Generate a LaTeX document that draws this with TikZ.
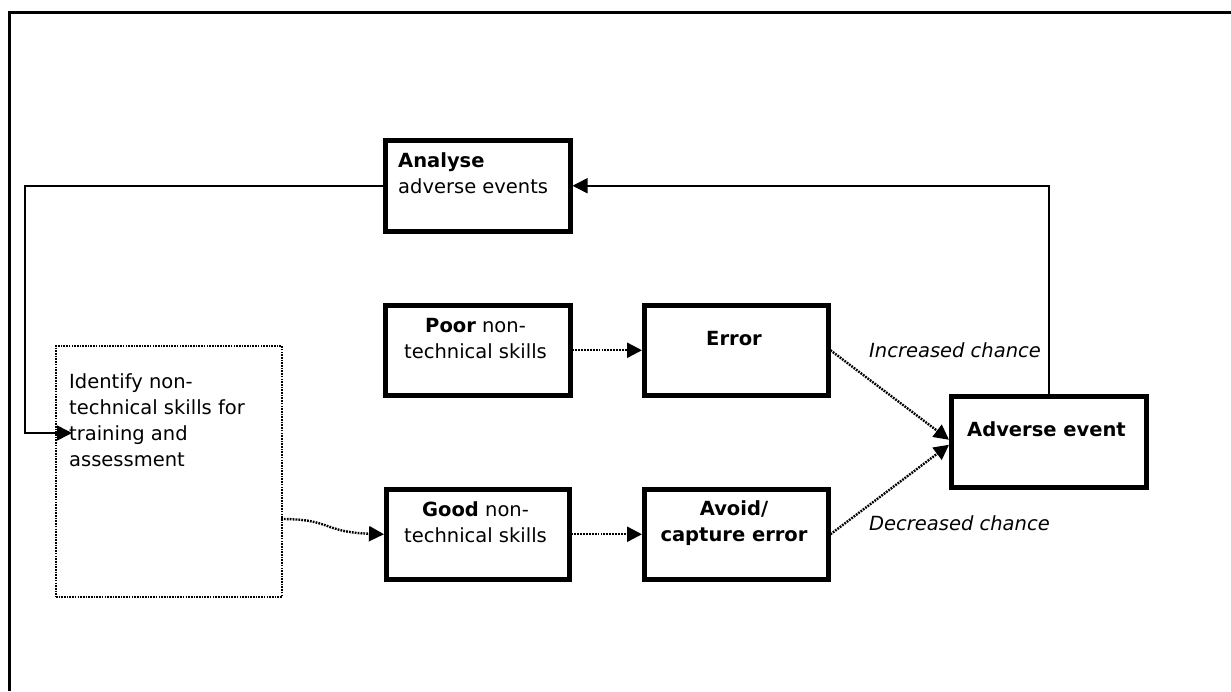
\documentclass[tikz,border=0pt]{standalone}
\usepackage{fontspec}
\setmainfont{DejaVu Sans}
\usetikzlibrary{arrows.meta,calc}
\begin{document}
\begin{tikzpicture}[x=1pt,y=-1pt,
  font=\fontsize{19.5}{26}\selectfont,
  boxnode/.style={draw,line width=4.5pt,rectangle,inner sep=0pt,anchor=north west},
  idbox/.style={draw,line width=1.9pt,dash pattern=on 1.6pt off 1.1pt,rectangle,inner sep=0pt,anchor=north west},
  txt/.style={inner sep=0pt,align=center},
  tip/.style={-{Triangle[length=15pt,width=15pt]}},
  fb/.style={tip,line width=1.6pt},
  dotarrow/.style={tip,line width=2.4pt,dash pattern=on 1.8pt off 1.1pt}]
\useasboundingbox (0,0) rectangle (1231,691);
% outer frame (top and left edges)
\draw[line width=3pt] (9,691) -- (9,12) -- (1231,12);

% boxes
\node[boxnode,minimum width=185pt,minimum height=91pt] (ana) at (383,138) {};
\node[boxnode,minimum width=185pt,minimum height=90pt] (poor) at (383,303) {};
\node[boxnode,minimum width=184pt,minimum height=90pt] (err) at (642,303) {};
\node[boxnode,minimum width=183pt,minimum height=90pt] (good) at (384,487) {};
\node[boxnode,minimum width=184pt,minimum height=90pt] (avoid) at (642,487) {};
\node[boxnode,minimum width=195pt,minimum height=91pt] (adv) at (949,394) {};
\node[idbox,minimum width=226pt,minimum height=251pt] (idf) at (55,345) {};

% box texts (base anchor = baseline of the last line)
\node[txt,anchor=base west,align=left] (anat) at (398,193) {\textbf{Analyse}\\adverse events};
\node[txt,anchor=base] (poort) at (475.5,358) {\textbf{Poor} non-\\technical skills};
\node[txt,anchor=base] (errt) at (734,345) {\textbf{Error}};
\node[txt,anchor=base] (goodt) at (475.5,542) {\textbf{Good} non-\\technical skills};
\node[txt,anchor=base] (avoidt) at (734,541) {\textbf{Avoid/}\\\textbf{capture error}};
\node[txt,anchor=base] (advt) at (1046.5,436) {\textbf{Adverse event}};
\node[txt,anchor=base west,align=left] (idft) at (69,466) {Identify non-\\technical skills for\\training and\\assessment};
\node[txt,anchor=base west,font=\fontsize{19.5}{26}\selectfont\itshape] (inc) at (869,357) {Increased chance};
\node[txt,anchor=base west,font=\fontsize{19.5}{26}\selectfont\itshape] (dec) at (869,530) {Decreased chance};

% feedback loop
\coordinate (lc) at (25,433);
\coordinate (idin) at (72,433);
\draw[fb] (adv.north) |- (ana.east);
\draw[fb] (ana.west) -| (lc) -- (idin);

% dotted flows
\coordinate (cs) at (281,519);
\draw[dotarrow] (cs) .. controls (332,519) and (322,532) .. (good.west);
\draw[dotarrow] (poor.east) -- (err.west);
\draw[dotarrow] (good.east) -- (avoid.west);
\draw[dotarrow] (err.east) -- ($(adv.west)+(0,-2)$);
\draw[dotarrow] (avoid.east) -- ($(adv.west)+(0,3)$);
\end{tikzpicture}
\end{document}
